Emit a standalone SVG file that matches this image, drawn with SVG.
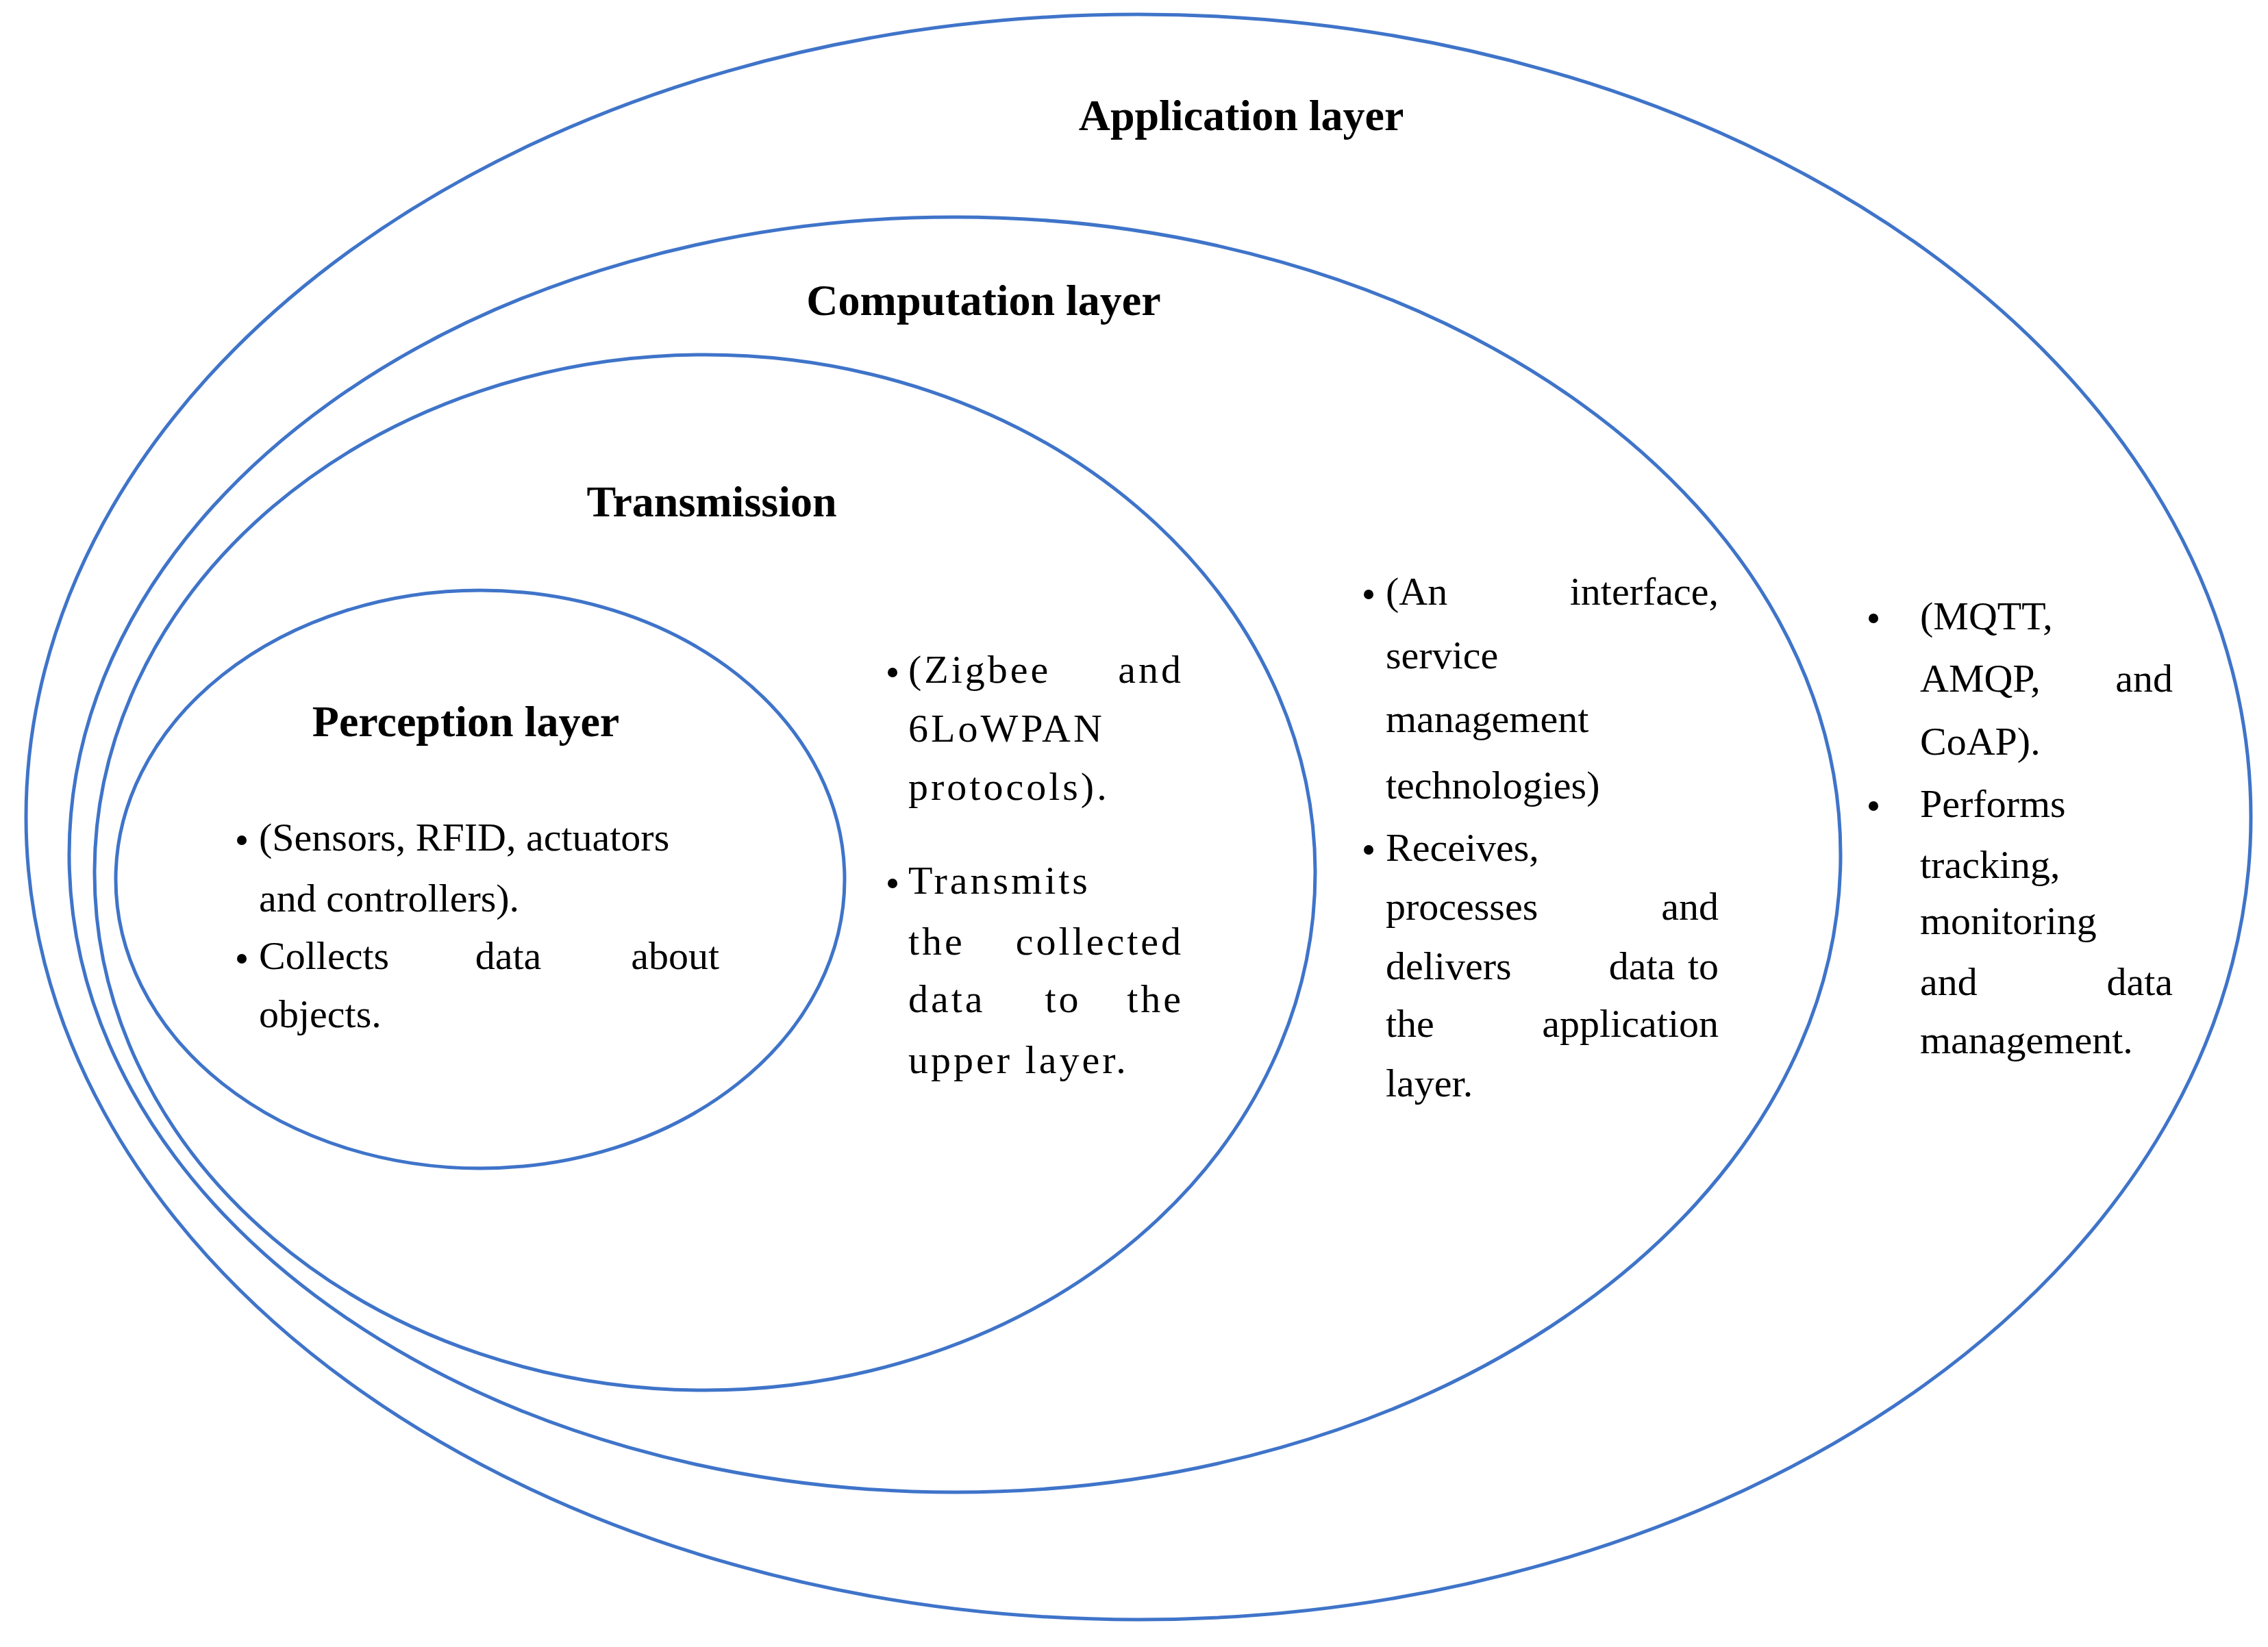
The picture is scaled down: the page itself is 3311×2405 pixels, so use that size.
<svg xmlns="http://www.w3.org/2000/svg" width="3311" height="2405" viewBox="0 0 3311 2405">
<style>
.e{fill:none;stroke:#3f74c9;stroke-width:5}
.t{font-family:"Liberation Serif",serif;font-weight:bold;font-size:64px;fill:#000;text-anchor:middle}
.b{font-family:"Liberation Serif",serif;font-size:58px;fill:#000}
.m{text-anchor:middle}
.r{text-anchor:end}
.w{letter-spacing:4px}
.d{fill:#000}
</style>
<rect width="3311" height="2405" fill="#fff"/>
<g id="application">
<ellipse class="e" cx="1662" cy="1193" rx="1624" ry="1172"/>
<text class="t" x="1812" y="190">Application layer</text>
<circle class="d" cx="2735" cy="903" r="7"/>
<circle class="d" cx="2735" cy="1177" r="7"/>
<text class="b" x="2803" y="919">(MQTT,</text>
<text class="b" x="2803" y="1010">AMQP,</text><text class="b r" x="3172" y="1010">and</text>
<text class="b" x="2803" y="1102">CoAP).</text>
<text class="b" x="2803" y="1193">Performs</text>
<text class="b" x="2803" y="1282">tracking,</text>
<text class="b" x="2803" y="1364">monitoring</text>
<text class="b" x="2803" y="1453">and</text><text class="b r" x="3172" y="1453">data</text>
<text class="b" x="2803" y="1538">management.</text>
</g>
<g id="computation">
<ellipse class="e" cx="1394" cy="1248" rx="1293" ry="931"/>
<text class="t" x="1436" y="460">Computation layer</text>
<circle class="d" cx="1998" cy="868" r="7"/>
<circle class="d" cx="1998" cy="1241" r="7"/>
<text class="b" x="2023" y="883">(An</text><text class="b r" x="2509" y="883">interface,</text>
<text class="b" x="2023" y="976">service</text>
<text class="b" x="2023" y="1069">management</text>
<text class="b" x="2023" y="1166">technologies)</text>
<text class="b" x="2023" y="1257">Receives,</text>
<text class="b" x="2023" y="1343">processes</text><text class="b r" x="2509" y="1343">and</text>
<text class="b" x="2023" y="1430">delivers</text><text class="b m" x="2397" y="1430">data</text><text class="b r" x="2509" y="1430">to</text>
<text class="b" x="2023" y="1514">the</text><text class="b r" x="2509" y="1514">application</text>
<text class="b" x="2023" y="1601">layer.</text>
</g>
<g id="transmission">
<ellipse class="e" cx="1029" cy="1274" rx="891" ry="756"/>
<text class="t" x="1039" y="754">Transmission</text>
<circle class="d" cx="1303" cy="982" r="7"/>
<circle class="d" cx="1303" cy="1290" r="7"/>
<text class="b w" x="1326" y="997">(Zigbee</text><text class="b w r" x="1728" y="997">and</text>
<text class="b w" x="1326" y="1083">6LoWPAN</text>
<text class="b w" x="1326" y="1168">protocols).</text>
<text class="b w" x="1326" y="1305">Transmits</text>
<text class="b w" x="1326" y="1394">the</text><text class="b w r" x="1728" y="1394">collected</text>
<text class="b w" x="1326" y="1478">data</text><text class="b w m" x="1552" y="1478">to</text><text class="b w r" x="1728" y="1478">the</text>
<text class="b w" x="1326" y="1567">upper layer.</text>
</g>
<g id="perception">
<ellipse class="e" cx="701" cy="1284" rx="532" ry="422"/>
<text class="t" x="680" y="1075">Perception layer</text>
<circle class="d" cx="353" cy="1227" r="7"/>
<circle class="d" cx="353" cy="1400" r="7"/>
<text class="b" x="378" y="1242">(Sensors, RFID, actuators</text>
<text class="b" x="378" y="1331">and controllers).</text>
<text class="b" x="378" y="1415">Collects</text><text class="b m" x="742" y="1415">data</text><text class="b r" x="1050" y="1415">about</text>
<text class="b" x="378" y="1500">objects.</text>
</g>
<g id="connectors"/>
</svg>
